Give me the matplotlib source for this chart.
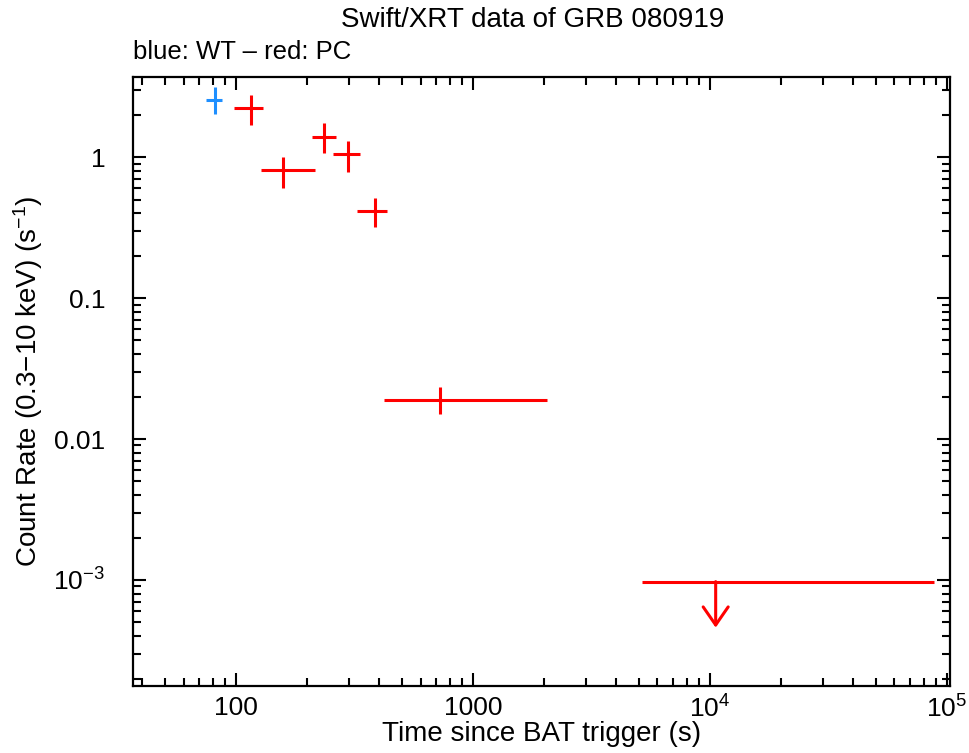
import matplotlib
matplotlib.use("Agg")
import matplotlib.pyplot as plt
from matplotlib.ticker import FixedLocator, FixedFormatter, LogLocator, NullFormatter

plt.rcParams['font.family'] = ['Liberation Sans', 'DejaVu Sans']
plt.rcParams['mathtext.fontset'] = 'custom'
plt.rcParams['mathtext.rm'] = 'Liberation Sans'
plt.rcParams['mathtext.it'] = 'Liberation Sans'

# WT mode (blue)
wt_t = [81.5]
wt_tlo = [74.5]
wt_thi = [87.1]
wt_rate = [2.54]
wt_rlo = [2.01]
wt_rhi = [3.15]

# PC mode (red)
pc_t = [115.7, 157.4, 235.9, 295.9, 386.0, 726.0]
pc_tlo = [98.1, 127.5, 209.9, 255.9, 325.0, 422.5]
pc_thi = [130.4, 215.4, 263.5, 333.6, 434.6, 2047.0]
pc_rate = [2.215, 0.805, 1.393, 1.05, 0.414, 0.0189]
pc_rlo = [1.686, 0.600, 1.073, 0.787, 0.317, 0.01496]
pc_rhi = [2.753, 0.995, 1.734, 1.299, 0.514, 0.0233]

# PC upper limit
ul_t = [10570.0]
ul_tlo = [5150.0]
ul_thi = [88100.0]
ul_rate = [9.73e-4]

xticks = [100, 1000, 1e4, 1e5]
xticklabels = ['100', '1000', r'$10^4$', r'$10^5$']
yticks = [1, 0.1, 0.01, 1e-3]
yticklabels = ['1', '0.1', '0.01', r'$10^{-3}$']

red = '#ff0000'
blue = '#1e8fff'

fig = plt.figure(figsize=(9.69, 7.53), dpi=100)
ax = fig.add_axes([0.1373, 0.089, 0.843, 0.8085])


def err(v, lo, hi):
    return [[a - b for a, b in zip(v, lo)], [c - a for a, c in zip(v, hi)]]


ax.errorbar(wt_t, wt_rate, xerr=err(wt_t, wt_tlo, wt_thi), yerr=err(wt_rate, wt_rlo, wt_rhi),
            fmt='none', ecolor=blue, elinewidth=2.2, capsize=0)
ax.errorbar(pc_t, pc_rate, xerr=err(pc_t, pc_tlo, pc_thi), yerr=err(pc_rate, pc_rlo, pc_rhi),
            fmt='none', ecolor=red, elinewidth=2.2, capsize=0)
ax.errorbar(ul_t, ul_rate, xerr=err(ul_t, ul_tlo, ul_thi),
            fmt='none', ecolor=red, elinewidth=2.2, capsize=0)
for t, r in zip(ul_t, ul_rate):
    ax.annotate('', xy=(t, r / 2.12), xytext=(t, r),
                arrowprops=dict(arrowstyle='->,head_length=0.65,head_width=0.45',
                                color=red, lw=2.2, mutation_scale=20,
                                shrinkA=0, shrinkB=0))

ax.set_xscale('log')
ax.set_yscale('log')
ax.set_xlim(36.7, 1.03e5)
ax.set_ylim(1.77e-4, 3.69)

ax.xaxis.set_major_locator(FixedLocator(xticks))
ax.xaxis.set_major_formatter(FixedFormatter(xticklabels))
ax.yaxis.set_major_locator(FixedLocator(yticks))
ax.yaxis.set_major_formatter(FixedFormatter(yticklabels))
ax.xaxis.set_minor_locator(LogLocator(base=10, subs=range(2, 10), numticks=20))
ax.yaxis.set_minor_locator(LogLocator(base=10, subs=range(2, 10), numticks=20))
ax.xaxis.set_minor_formatter(NullFormatter())
ax.yaxis.set_minor_formatter(NullFormatter())

ax.tick_params(which='both', direction='in', top=True, right=True, width=1.5, labelsize=19)
ax.tick_params(axis='x', pad=7)
ax.tick_params(axis='y', pad=20)
ax.tick_params(which='major', length=9.5)
ax.tick_params(which='minor', length=5.5)
for s in ax.spines.values():
    s.set_linewidth(1.6)

ax.set_xlabel('Time since BAT trigger (s)', fontsize=20)
ax.xaxis.set_label_coords(0.5, -0.058)
ax.set_ylabel(r'Count Rate (0.3$-$10 keV) (s$^{-1}$)', fontsize=20)
ax.yaxis.set_label_coords(-0.108, 0.5)
fig.text(0.550, 0.973, 'Swift/XRT data of GRB 080919', ha='center', va='center', fontsize=20)
fig.text(0.1373, 0.931, 'blue: WT \u2013 red: PC', ha='left', va='center', fontsize=18.5)

fig.savefig('out.png', dpi=100)
